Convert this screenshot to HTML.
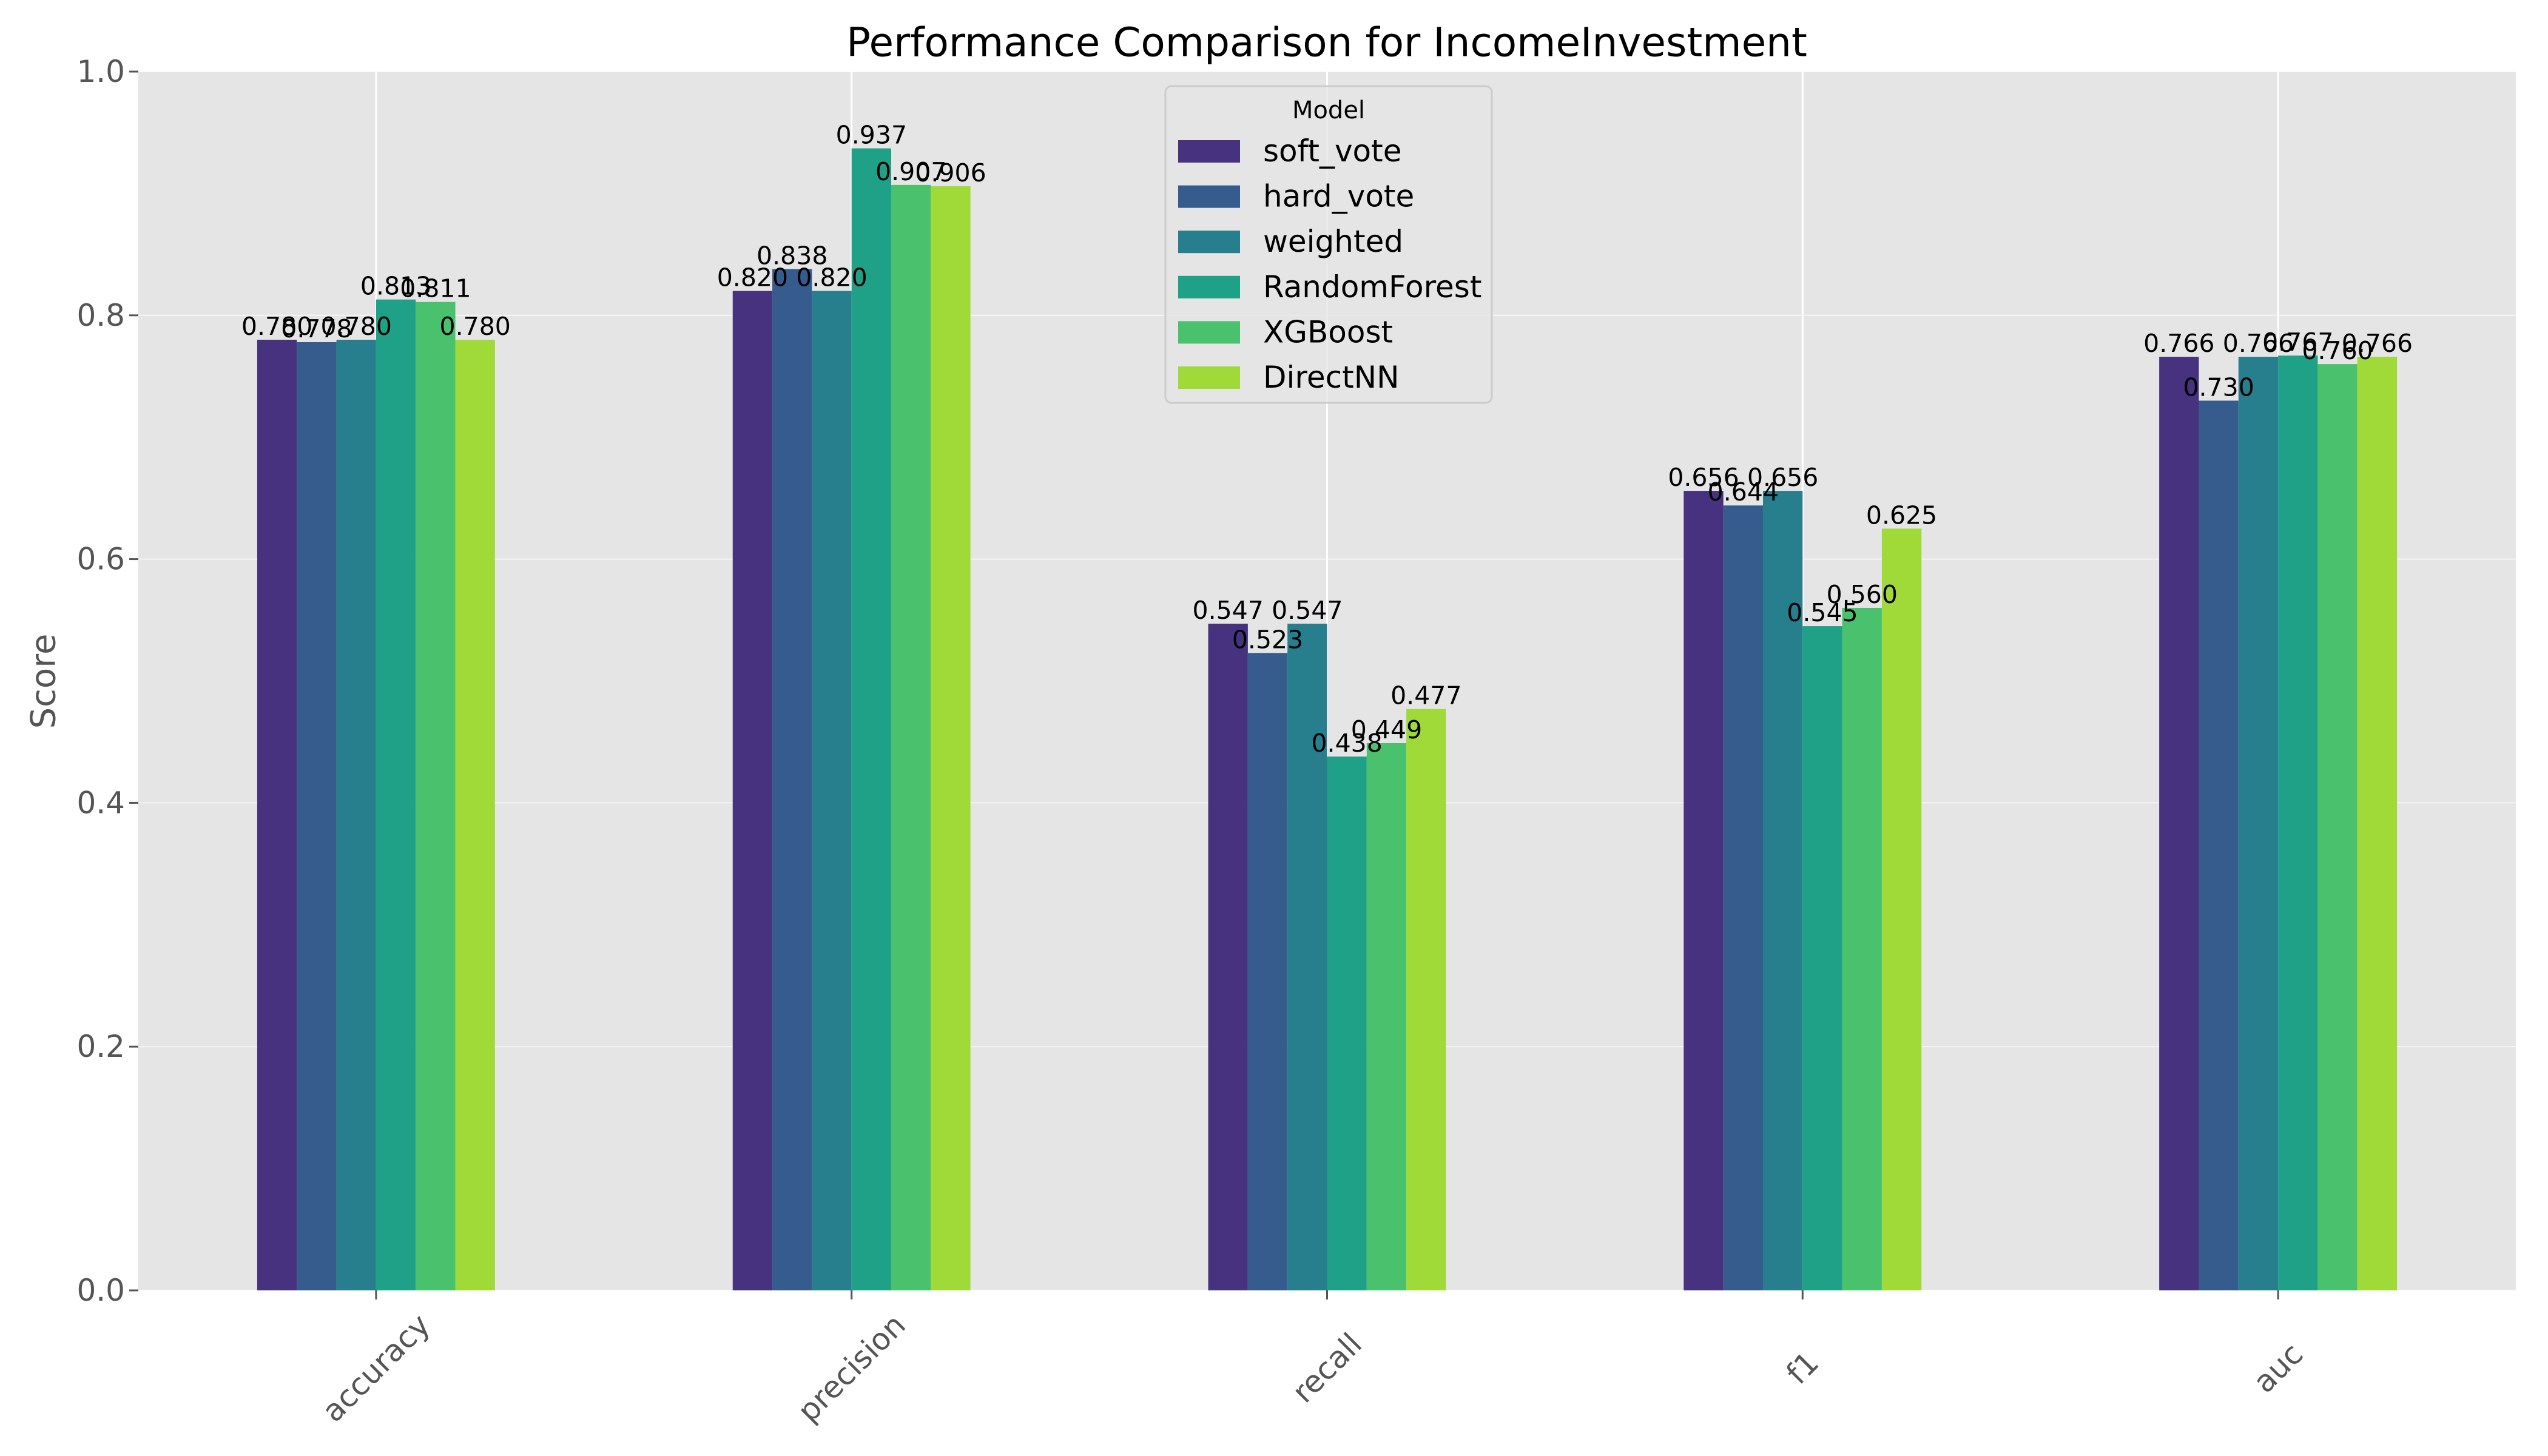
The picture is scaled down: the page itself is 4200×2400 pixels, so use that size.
<!DOCTYPE html>
<html><head><meta charset="utf-8"><style>
html,body{margin:0;padding:0;background:#fff;}
svg{display:block;font-family:"DejaVu Sans","Liberation Sans",sans-serif;}
</style></head><body>
<svg id="chart" width="4200" height="2400" viewBox="0 0 4200 2400" xmlns="http://www.w3.org/2000/svg">
<rect x="0" y="0" width="4200" height="2400" fill="#ffffff"/>
<rect x="228" y="118" width="3919" height="2009" fill="#e5e5e5"/>
<g id="grid"></g>
<g id="bars"></g>
<g id="labels"></g>
<g id="axes"></g>
<text x="2187" y="70" font-size="66" text-anchor="middle" dominant-baseline="central" fill="#000">Performance Comparison for IncomeInvestment</text>
<text x="72" y="1123" font-size="56" text-anchor="middle" dominant-baseline="central" fill="#555" transform="rotate(-90 72 1123)">Score</text>
<g id="legend"></g>
</svg>
<script>
const categories = ["accuracy","precision","recall","f1","auc"];
const models = ["soft_vote","hard_vote","weighted","RandomForest","XGBoost","DirectNN"];
const colors = ["#46327e","#365c8d","#277f8e","#1fa187","#4ac16d","#a0da39"];
const softVote = [0.780,0.820,0.547,0.656,0.766];
const hardVote = [0.778,0.838,0.523,0.644,0.730];
const weighted = [0.780,0.820,0.547,0.656,0.766];
const randomForest = [0.813,0.937,0.438,0.545,0.767];
const xgBoost = [0.811,0.907,0.449,0.560,0.760];
const directNN = [0.780,0.906,0.477,0.625,0.766];
const yTicks = [0.0,0.2,0.4,0.6,0.8,1.0];
const yTickLabels = ["0.0","0.2","0.4","0.6","0.8","1.0"];

const series = [softVote,hardVote,weighted,randomForest,xgBoost,directNN];
const NS = "http://www.w3.org/2000/svg";
const L=228,R=4147,T=118,B=2127;
const xScale = v => L + (v + 0.5) / categories.length * (R - L);
const yScale = v => B - v * (B - T);
const groupW = 0.5, barW = groupW / models.length;
function mk(tag, attrs, parent){const e=document.createElementNS(NS,tag);for(const k in attrs)e.setAttribute(k,attrs[k]);parent.appendChild(e);return e;}
const grid=document.getElementById('grid'), bars=document.getElementById('bars'), labels=document.getElementById('labels'), axes=document.getElementById('axes'), legend=document.getElementById('legend');

yTicks.forEach((t,i)=>{
  const y=yScale(t);
  const g=mk('line',{x1:L,x2:R,y1:y,y2:y,stroke:'#ffffff','stroke-width':2,'stroke-opacity':0.6},grid);
  
  
  const tk=mk('line',{x1:L-15,x2:L,y1:y,y2:y,stroke:'#555','stroke-width':3},axes);
  
  
  const tx=mk('text',{x:L-22,y:y,'font-size':50,'text-anchor':'end','dominant-baseline':'central',fill:'#555'},axes);
  tx.textContent=yTickLabels[i];
  
  
});
categories.forEach((c,i)=>{
  const x=xScale(i);
  const g=mk('line',{x1:x,x2:x,y1:T,y2:B,stroke:'#ffffff','stroke-width':3},grid);
  
  
  const tk=mk('line',{x1:x,x2:x,y1:B,y2:B+15,stroke:'#555','stroke-width':3},axes);
  
  
  const cy=2255;
  const tx=mk('text',{x:x,y:cy,'font-size':50,'text-anchor':'middle','dominant-baseline':'central',fill:'#555',transform:`rotate(-45 ${x} ${cy})`},axes);
  tx.textContent=c;
  
  
});
series.forEach((vals,m)=>{
  vals.forEach((v,i)=>{
    const off=-groupW/2 + m*barW;
    const x0=xScale(i+off), x1=xScale(i+off+barW);
    const r=mk('rect',{x:x0,y:yScale(v),width:x1-x0,height:yScale(0)-yScale(v),fill:colors[m]},bars);
    
    
    const t=mk('text',{x:(x0+x1)/2,y:yScale(v)-8,'font-size':41,'text-anchor':'middle',fill:'#000'},labels);
    t.textContent=v.toFixed(3);
    
    
  });
});
const box=mk('rect',{x:1921,y:142,width:538,height:522,rx:10,fill:'#e5e5e5','fill-opacity':0.8,stroke:'#cccccc','stroke-width':3},legend);


const lt=mk('text',{x:2190,y:182,'font-size':40,'text-anchor':'middle','dominant-baseline':'central',fill:'#000'},legend);
lt.textContent='Model';


models.forEach((m,i)=>{
  const cy=249+i*74.6;
  const h=mk('rect',{x:1942,y:cy-18,width:102,height:37,fill:colors[i]},legend);
  
  
  const t=mk('text',{x:2082,y:cy,'font-size':50,'dominant-baseline':'central',fill:'#000'},legend);
  t.textContent=m;
  
  
});
</script>
</body></html>
